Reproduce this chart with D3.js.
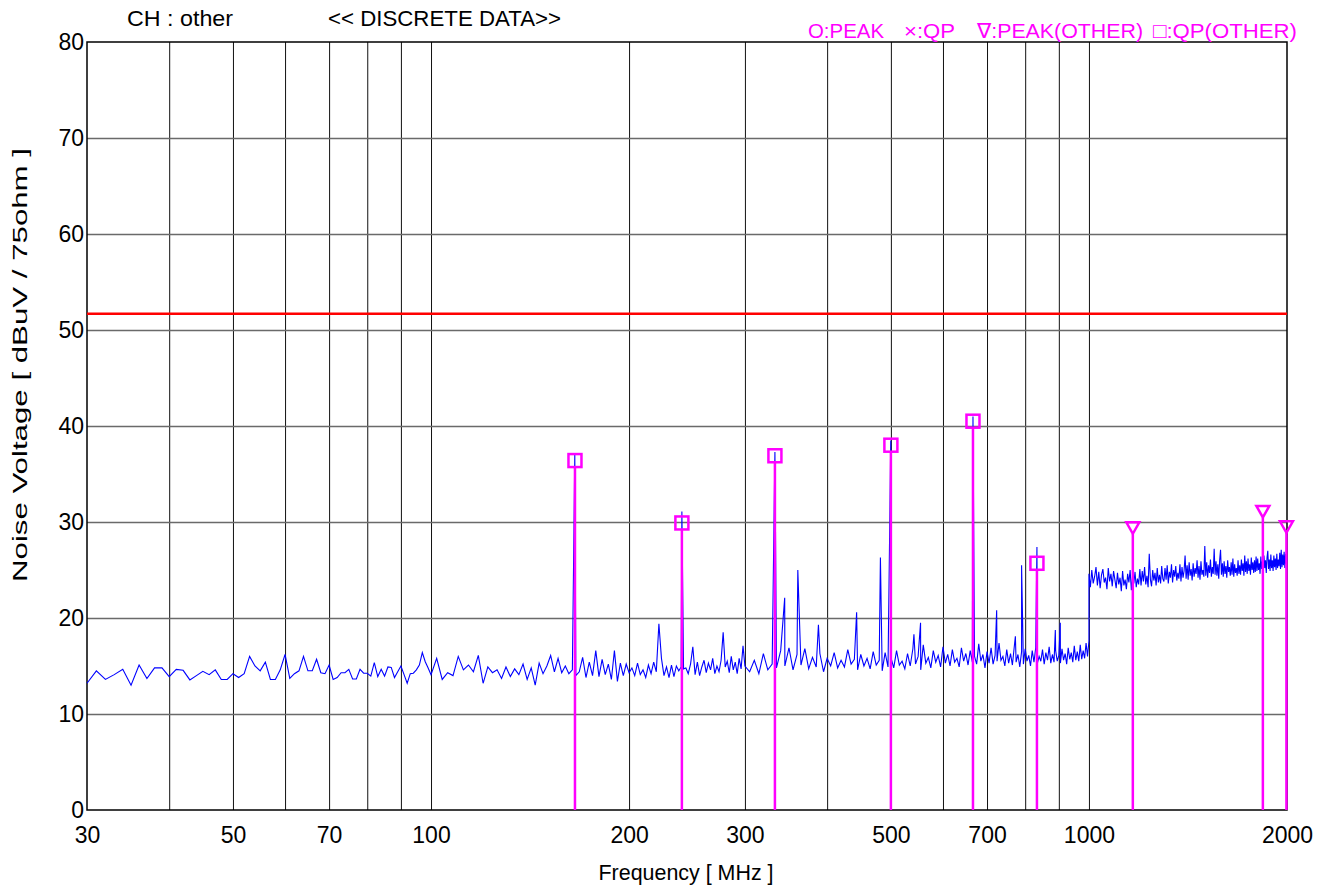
<!DOCTYPE html>
<html>
<head>
  <meta charset="utf-8">
  <style>
    body { margin: 0; background: #fff; }
    svg text { font-family: "Liberation Sans", Arial, sans-serif; }
    .tick text { font-size: 23px; fill: #000; }
    .axis path, .axis line { stroke: #000; }
  </style>
  <script src="https://d3js.org/d3.v7.min.js"></script>
</head>
<body>
  <div id="chart"></div>
  <script>
    // sweep bands: start MHz, step MHz, levels dBuV
    var bandA = { start: 30, step: 1, values: [
      13.2,14.5,13.6,14.1,14.65,13.0,15.1,13.7,14.8,14.8,
      13.9,14.65,14.55,13.55,14.0,14.45,14.1,14.6,13.6,13.6,
      14.2,13.8,14.2,16.0,15.0,14.5,15.4,13.6,13.6,14.6,
      16.2,13.7,14.2,14.5,16.0,14.5,14.5,15.7,14.3,14.2,
      15.1,13.6,13.8,14.3,14.3,14.65,13.65,13.65,14.65,14.25,
      14.25,13.95,15.35,13.9,14.65,13.95,14.9,14.85,13.8,14.4,
      15.0,14.1,13.2,14.2,14.25,14.6,15.1,16.4,15.45,14.8,14.1] };

    var bandB1 = { start: 102, step: 2, values: [
      15.8,13.6,14.3,14.0,16.0,14.6,15.1,14.4,16.1,13.2,
      14.9,14.3,14.6,13.7,14.9,13.9,14.7,14.1,15.2,13.6,
      14.8,13.0,15.3,14.2,15.0,16.1,14.4,15.8,14.3,15.0,
      14.2,14.6,14.0,14.4,15.9,13.8,15.4,14.0,16.6,13.9,
      15.7,14.1,15.2,13.6,16.6,13.4,15.3,14.0,15.2,14.3,
      14.8,14.0,15.3,14.1,14.6,13.8,15.1,14.2,15.4,14.4,
      19.4,15.8,14.0,14.9,13.8,15.1,13.9,15.0,14.5,14.9,
      14.7,14.8,14.2,15.2,17.0,14.1,15.4,14.0,14.9,15.6,
      14.3,15.3,14.6,15.8,14.2,15.0,14.4,15.6,18.5,14.9,
      15.5,14.3,16.0,14.6,15.4,14.2,15.8,14.7,17.1,15.0] };

    var bandB2 = { start: 305, step: 5, values: [
      14.4,15.6,14.2,16.3,14.6,15.2,14.8,16.6,15.0,16.9,
      14.6,16.2,15.1,16.8,14.7,15.9,14.9,16.3,14.4,15.8,
      15.0,16.4,14.8,15.6,14.9,16.7,15.2,15.7,14.6,16.2,
      15.0,15.8,14.7,16.5,15.1,15.6,14.5,16.4,14.9,15.9,
      14.8,16.6,15.1,15.5,14.7,16.3,15.0,16.8,15.2,16.0,
      14.6,17.2,15.3,15.9,14.8,16.6,15.4,16.1,14.9,17.0,
      15.3,16.2,15.0,16.7,15.4,15.8,14.9,16.9,15.5,16.3,
      15.1,16.6,15.4,16.0,15.2,17.3,15.5,16.2,14.8,16.5,
      15.3,16.9,15.2,16.1,15.5,17.4,15.6,16.0,15.0,16.7,
      15.3,16.3,15.1,17.0,15.4,16.2,14.9,16.5,15.2,16.8,
      15.5,16.1,15.0,16.6,15.4,16.9,15.3,16.0,15.5,16.7,
      15.2,16.4,15.6,17.0,15.3,16.2,15.4,16.6,15.5,16.1,
      15.3,16.8,15.6,16.3,15.2,16.9,15.7,16.4,15.4,17.1,
      15.6,16.5,15.5,17.2,15.7,16.6,15.8,17.4,16.0,17.6] };

    var bandC = { start: 1000, step: 5, values: [
      24.6,23.2,25.0,23.6,24.3,25.3,23.4,24.8,23.1,24.5,25.1,23.7,24.2,23.0,25.2,23.8,24.6,23.3,24.9,24.0,
      23.1,24.7,23.5,24.2,22.8,24.9,23.4,24.0,23.0,24.6,23.7,25.0,22.9,24.3,23.6,24.8,23.2,24.1,23.5,25.1,
      23.4,24.9,23.8,25.3,23.5,24.4,23.2,26.7,24.0,23.3,25.0,23.9,24.7,23.4,25.2,23.7,24.5,23.6,25.4,24.1,
      23.8,25.2,24.0,25.5,23.6,24.8,24.2,25.6,23.7,25.0,24.3,25.4,23.9,24.7,24.1,25.6,23.8,25.3,24.2,24.9,
      26.5,24.1,25.5,24.0,25.8,24.4,25.1,23.9,25.7,24.3,25.2,24.6,26.0,24.2,25.4,24.0,25.9,24.5,25.0,24.3,
      27.5,24.4,25.8,24.2,25.5,24.7,26.1,24.3,25.3,24.6,27.2,24.5,25.9,24.4,25.6,24.1,26.0,27.1,24.5,25.7,
      24.3,25.9,24.6,25.4,24.2,26.0,24.8,25.3,24.4,25.8,24.5,26.2,24.3,25.6,24.7,25.2,24.4,26.0,24.6,25.5,
      24.5,26.1,24.9,25.7,24.4,26.5,24.8,25.9,24.6,26.2,24.9,25.6,24.5,26.3,25.0,25.8,24.7,26.0,24.8,26.4,
      24.9,26.2,25.0,25.7,24.6,26.4,25.1,25.9,24.8,26.5,25.2,26.0,24.7,26.3,27.0,25.1,26.1,24.9,26.6,25.2,
      26.0,24.9,26.5,25.3,26.2,25.0,26.7,25.2,26.1,25.4,26.8,25.1,27.1,25.3,26.6,25.5,26.9,25.2,26.7,25.6,
      26.2] };

    // narrow spikes in the trace (MHz, dBuV)
    var spikeFreq  = [165.4, 240.6, 333.2, 344.8, 361, 388, 443.5, 482, 499.8, 542, 554.7, 666.4, 724, 773, 790, 833.6, 889, 904.6];
    var spikeLevel = [37.0, 31.1, 37.3, 22.1, 25.0, 19.3, 20.6, 26.3, 38.5, 18.3, 19.5, 41.0, 20.8, 18.1, 25.5, 27.4, 18.75, 19.5];

    var limitLevel = 51.7;

    var qpOtherFreq  = [165.5, 240.6, 333.2, 500.0, 666.4, 833.6];
    var qpOtherLevel = [36.4, 29.9, 36.9, 38.0, 40.5, 25.7];

    var peakOtherFreq  = [1166, 1838, 1996];
    var peakOtherLevel = [29.4, 31.1, 29.5];

    var xTickLabels = [30, 50, 70, 100, 200, 300, 500, 700, 1000, 2000];
    var xGrid = [40, 50, 60, 70, 80, 90, 100, 200, 300, 400, 500, 600, 700, 800, 900, 1000];
    var yTicks = [0, 10, 20, 30, 40, 50, 60, 70, 80];
    var yGrid = [10, 20, 30, 40, 50, 60, 70];

    var svgWidth = 1335, svgHeight = 887;
    var margin = { top: 42, right: 48, bottom: 77, left: 87 };
    var width = svgWidth - margin.left - margin.right;
    var height = svgHeight - margin.top - margin.bottom;

    var svg = d3.select("#chart").append("svg")
      .attr("width", svgWidth)
      .attr("height", svgHeight);

    var g = svg.append("g")
      .attr("transform", "translate(" + margin.left + "," + margin.top + ")");

    var x = d3.scaleLog().domain([30, 2000]).range([0, width]);
    var y = d3.scaleLinear().domain([0, 80]).range([height, 0]);

    // grid
    g.append("g")
      .attr("transform", "translate(0," + height + ")")
      .call(d3.axisBottom(x).tickValues(xGrid).tickSize(-height).tickFormat(""))
      .call(function (s) {
        s.select(".domain").remove();
        s.selectAll("line").attr("stroke", "#111").attr("stroke-width", 1);
      });

    g.append("g")
      .call(d3.axisLeft(y).tickValues(yGrid).tickSize(-width).tickFormat(""))
      .call(function (s) {
        s.select(".domain").remove();
        s.selectAll("line").attr("stroke", "#6a6a6a").attr("stroke-width", 1.5);
      });

    // frame
    g.append("rect")
      .attr("x", 0).attr("y", 0)
      .attr("width", width).attr("height", height)
      .attr("fill", "none").attr("stroke", "#000").attr("stroke-width", 1.5);

    // axes labels
    g.append("g")
      .attr("class", "axis")
      .attr("transform", "translate(0," + height + ")")
      .call(d3.axisBottom(x).tickValues(xTickLabels).tickSize(0).tickPadding(17).tickFormat(d3.format("d")))
      .call(function (s) { s.select(".domain").remove(); });

    g.append("g")
      .attr("class", "axis")
      .call(d3.axisLeft(y).tickValues(yTicks).tickSize(0).tickPadding(3))
      .call(function (s) { s.select(".domain").remove(); });

    // limit line
    g.append("line")
      .attr("x1", 0).attr("x2", width)
      .attr("y1", y(limitLevel)).attr("y2", y(limitLevel))
      .attr("stroke", "#ff0000").attr("stroke-width", 2.5);

    // trace
    var trace = [];
    [bandA, bandB1, bandB2, bandC].forEach(function (b) {
      b.values.forEach(function (v, i) {
        trace.push({ f: b.start + i * b.step, v: v });
      });
    });
    spikeFreq.forEach(function (f, i) { trace.push({ f: f, v: spikeLevel[i] }); });
    trace.sort(function (a, b) { return a.f - b.f; });

    g.append("path")
      .datum(trace)
      .attr("fill", "none")
      .attr("stroke", "#0000ff")
      .attr("stroke-width", 1.1)
      .attr("d", d3.line().x(function (d) { return x(d.f); }).y(function (d) { return y(d.v); }));

    // markers
    var magenta = "#ff00ff";
    var sq = 13;
    var qp = qpOtherFreq.map(function (f, i) { return { f: f, v: qpOtherLevel[i] }; });
    var pk = peakOtherFreq.map(function (f, i) { return { f: f, v: peakOtherLevel[i] }; });

    g.selectAll(".qp-stem").data(qp).enter().append("line")
      .attr("class", "qp-stem")
      .attr("x1", function (d) { return x(d.f); })
      .attr("x2", function (d) { return x(d.f); })
      .attr("y1", y(0))
      .attr("y2", function (d) { return y(d.v) + sq / 2; })
      .attr("stroke", magenta).attr("stroke-width", 2.5);

    g.selectAll(".qp-mark").data(qp).enter().append("rect")
      .attr("class", "qp-mark")
      .attr("x", function (d) { return x(d.f) - sq / 2; })
      .attr("y", function (d) { return y(d.v) - sq / 2; })
      .attr("width", sq).attr("height", sq)
      .attr("fill", "none").attr("stroke", magenta).attr("stroke-width", 2.5);

    g.selectAll(".pk-stem").data(pk).enter().append("line")
      .attr("class", "pk-stem")
      .attr("x1", function (d) { return x(d.f); })
      .attr("x2", function (d) { return x(d.f); })
      .attr("y1", y(0))
      .attr("y2", function (d) { return y(d.v) + 6; })
      .attr("stroke", magenta).attr("stroke-width", 2.5);

    g.selectAll(".pk-mark").data(pk).enter().append("path")
      .attr("class", "pk-mark")
      .attr("d", function (d) {
        var cx = x(d.f), cy = y(d.v);
        return "M" + (cx - 6.5) + "," + (cy - 5.5) + "L" + (cx + 6.5) + "," + (cy - 5.5) + "L" + cx + "," + (cy + 6) + "Z";
      })
      .attr("fill", "none").attr("stroke", magenta).attr("stroke-width", 2.5);

    // titles
    svg.append("text").attr("x", 127).attr("y", 26)
      .attr("font-size", 22).attr("textLength", 106).attr("lengthAdjust", "spacingAndGlyphs")
      .text("CH : other");
    svg.append("text").attr("x", 328).attr("y", 26)
      .attr("font-size", 22).attr("textLength", 233).attr("lengthAdjust", "spacingAndGlyphs")
      .text("<< DISCRETE DATA>>");

    var legend = [
      { t: "O:PEAK", x: 808, w: 76 },
      { t: "\u00d7:QP", x: 904, w: 51 },
      { t: "\u2207:PEAK(OTHER)", x: 977, w: 166 },
      { t: "\u25a1:QP(OTHER)", x: 1153, w: 144 }
    ];
    svg.selectAll(".legend").data(legend).enter().append("text")
      .attr("class", "legend")
      .attr("x", function (d) { return d.x; })
      .attr("y", 38)
      .attr("font-size", 21)
      .attr("fill", magenta)
      .attr("textLength", function (d) { return d.w; })
      .attr("lengthAdjust", "spacingAndGlyphs")
      .text(function (d) { return d.t; });

    svg.append("text")
      .attr("x", 686).attr("y", 880)
      .attr("text-anchor", "middle")
      .attr("font-size", 22).attr("textLength", 175).attr("lengthAdjust", "spacingAndGlyphs")
      .text("Frequency [ MHz ]");

    svg.append("text")
      .attr("transform", "translate(27,365) rotate(-90)")
      .attr("text-anchor", "middle")
      .attr("font-size", 21).attr("textLength", 434).attr("lengthAdjust", "spacingAndGlyphs")
      .text("Noise Voltage [ dBuV / 75ohm ]");
  </script>
</body>
</html>
